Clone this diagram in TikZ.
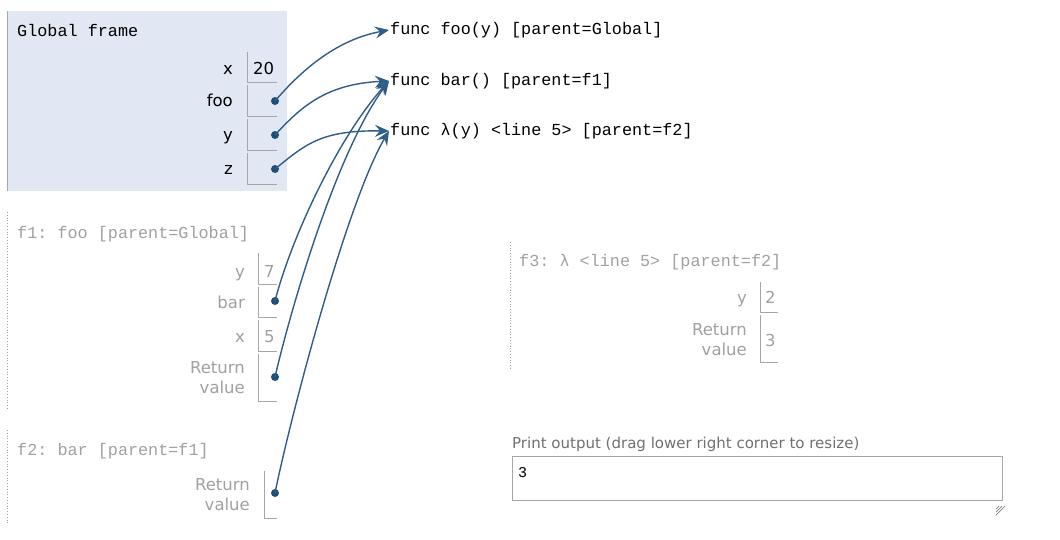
\documentclass[tikz,border=0pt]{standalone}
\usepackage{fontspec}
\setmainfont{DejaVu Sans}
\setmonofont{Liberation Mono}
\usetikzlibrary{arrows.meta}

\definecolor{globalbg}{HTML}{E2E8F3}
\definecolor{ptrblue}{HTML}{2E5D88}
\definecolor{dotblue}{HTML}{1F4E79}
\definecolor{dimtext}{HTML}{A0A0A0}
\definecolor{boxgray}{HTML}{A6A6A6}
\definecolor{printgray}{HTML}{707070}

\tikzset{
  title/.style={anchor=base west, inner sep=0, font=\fontsize{16.8}{20}\ttfamily},
  functxt/.style={anchor=west, inner sep=1pt, font=\fontsize{16.8}{20}\ttfamily},
  varname/.style={anchor=base east, inner sep=0, font=\fontsize{16.5}{20}\selectfont},
  retname/.style={anchor=east, inner sep=0, align=right, font=\fontsize{16.5}{20}\selectfont},
  varval/.style={anchor=base west, inner sep=0, font=\fontsize{16.5}{20}\selectfont},
  boxline/.style={boxgray, line width=0.8pt},
  frameedge/.style={dimtext, line width=0.8pt, dotted},
  ptrdot/.style={circle, fill=dotblue, inner sep=0, minimum size=8pt},
  ptrarrow/.style={ptrblue, line width=1.4pt, -{Stealth[length=14pt,width=12pt,inset=5pt]}},
}

\begin{document}
\begin{tikzpicture}[x=1pt,y=-1pt]
\useasboundingbox (0,0) rectangle (1060,540);

\fill[globalbg] (7,11) rectangle (287,191);
\draw[boxgray, line width=1pt] (7,11) -- (7,191);
\node[title] (gtitle) at (17,37) {Global frame};

\node[varname] (gxname) at (233,75) {x};
\node[varname] (gfooname) at (233,107) {foo};
\node[varname] (gyname) at (233,141) {y};
\node[varname] (gzname) at (233,175) {z};
\draw[boxline] (247,52) |- (277,82);
\draw[boxline] (247,85) |- (277,116);
\draw[boxline] (247,119) |- (277,150);
\draw[boxline] (247,153) |- (277,184);
\node[varval] (gxval) at (253,75) {20};
\node[ptrdot] (gfoo) at (275,101) {};
\node[ptrdot] (gy) at (275,135) {};
\node[ptrdot] (gz) at (275,169) {};

\node[functxt] (funcfoo) at (389,30) {func foo(y) [parent=Global]};
\node[functxt] (funcbar) at (389,81) {func bar() [parent=f1]};
\node[functxt] (funclam) at (389,131) {func λ(y) <line 5> [parent=f2]};

\draw[frameedge] (7,212) -- (7,410);
\node[title, dimtext] (f1title) at (17,238) {f1: foo [parent=Global]};
\node[varname, dimtext] (f1yname) at (245,277) {y};
\node[varname, dimtext] (f1barname) at (245,308) {bar};
\node[varname, dimtext] (f1xname) at (245,342) {x};
\node[retname, dimtext] (f1retname) at (245,378) {Return\\value};
\draw[boxline] (258,253) |- (277,284);
\draw[boxline] (258,287) |- (277,317);
\draw[boxline] (258,320) |- (277,351);
\draw[boxline] (258,354) |- (277,401);
\node[varval, dimtext] (f1yval) at (264,277) {7};
\node[varval, dimtext] (f1xval) at (264,342) {5};
\node[ptrdot] (f1bar) at (275,301) {};
\node[ptrdot] (f1ret) at (275,377) {};

\draw[frameedge] (7,430) -- (7,525);
\node[title, dimtext] (f2title) at (17,455) {f2: bar [parent=f1]};
\node[retname, dimtext] (f2retname) at (250,495) {Return\\value};
\draw[boxline] (264,471) |- (277,518);
\node[ptrdot] (f2ret) at (275,493) {};

\draw[frameedge] (510,242) -- (510,370);
\node[title, dimtext] (f3title) at (519,266) {f3: λ <line 5> [parent=f2]};
\node[varname, dimtext] (f3yname) at (747,303) {y};
\node[retname, dimtext] (f3retname) at (747,340) {Return\\value};
\draw[boxline] (760,282) |- (778,312);
\draw[boxline] (760,315) |- (778,362);
\node[varval, dimtext] (f3yval) at (765,303) {2};
\node[varval, dimtext] (f3retval) at (765,346) {3};

\node[anchor=base west, inner sep=0, printgray, font=\fontsize{15}{18}\selectfont] (printlabel) at (512,448) {Print output (drag lower right corner to resize)};
\draw[boxgray, line width=1pt] (512,456) rectangle (1002,500);
\node[anchor=base west, inner sep=0, font=\fontsize{15}{18}\ttfamily] (printval) at (518,477) {3};
\foreach \d in {0,3,6}
  \draw[gray, line width=0.7pt] (1005-\d,506) -- (996,515-\d);

\draw[ptrarrow] (gfoo.center) .. controls (300,72) and (335,40) .. (funcfoo.west);
\draw[ptrarrow] (gy.center) .. controls (300,108) and (325,84) .. (funcbar.west);
\draw[ptrarrow] (gz.center) .. controls (305,145) and (320,130) .. (funclam.west);
\draw[ptrarrow] (f1bar.center) .. controls (292,235) and (340,135) .. (funcbar.west);
\draw[ptrarrow] (f1ret.center) .. controls (293,300) and (338,150) .. (funcbar.west);
\draw[ptrarrow] (f2ret.center) .. controls (292,410) and (348,200) .. (funclam.west);
\end{tikzpicture}
\end{document}
